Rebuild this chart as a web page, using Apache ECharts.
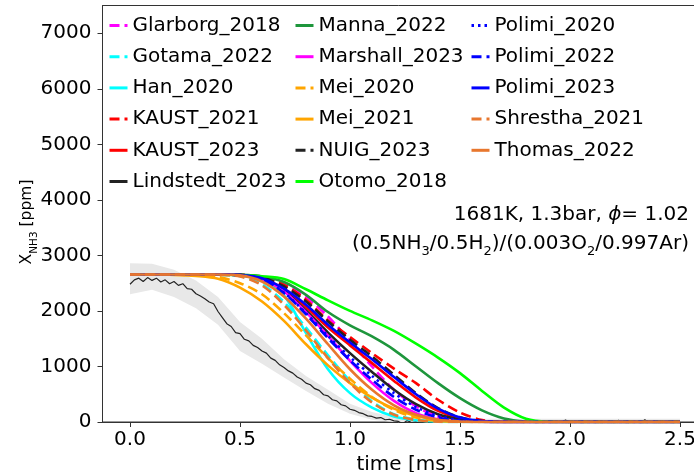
<!DOCTYPE html>
<html><head><meta charset="utf-8">
<script src="https://cdn.jsdelivr.net/npm/echarts@6/dist/echarts.min.js"></script>
<style>html,body{margin:0;padding:0;background:#fff}#c{width:694px;height:472px}</style>
</head><body><div id="c"></div>
<script>
// time grid for model curves [ms]
const T = [0,0.1,0.2,0.3,0.4,0.5,0.6,0.7,0.8,0.9,1.0,1.1,1.2,1.3,1.4,1.5,1.6,1.7,1.8,1.9,2.0,2.1,2.2,2.3,2.4,2.5];
const xTicks = [0,0.5,1.0,1.5,2.0,2.5];
const yTicks = [0,1000,2000,3000,4000,5000,6000,7000];

// model predictions, X_NH3 [ppm]
const Glarborg_2018 = [2655,2655,2655,2655,2655,2650,2620,2480,2250,1900,1460,1000,580,280,100,25,4,0,0,0,0,0,0,0,0,0];
const Gotama_2022   = [2655,2655,2655,2655,2650,2630,2480,2160,1700,1200,740,370,140,40,5,0,0,0,0,0,0,0,0,0,0,0];
const Han_2020      = [2655,2655,2655,2655,2655,2640,2560,2280,1600,950,520,260,100,30,5,0,0,0,0,0,0,0,0,0,0,0];
const KAUST_2021    = [2655,2655,2655,2655,2655,2650,2610,2470,2200,1830,1530,1240,960,700,400,170,35,3,0,0,0,0,0,0,0,0];
const KAUST_2023    = [2655,2655,2655,2655,2655,2645,2590,2390,2070,1700,1380,1060,740,440,200,65,12,1,0,0,0,0,0,0,0,0];
const Lindstedt_2023= [2655,2655,2655,2655,2655,2645,2580,2360,2010,1610,1240,900,580,320,140,45,10,1,0,0,0,0,0,0,0,0];
const Manna_2022    = [2655,2655,2655,2655,2655,2650,2620,2520,2290,1980,1740,1540,1300,1000,700,430,210,65,10,0,0,0,0,0,0,0];
const Marshall_2023 = [2655,2655,2655,2655,2655,2645,2570,2350,1980,1550,1100,700,380,160,50,10,1,0,0,0,0,0,0,0,0,0];
const Mei_2020      = [2655,2655,2655,2640,2610,2500,2300,1960,1560,1150,780,450,220,80,20,3,0,0,0,0,0,0,0,0,0,0];
const Mei_2021      = [2655,2655,2650,2630,2580,2420,2170,1820,1400,1020,700,440,240,110,40,10,1,0,0,0,0,0,0,0,0,0];
const NUIG_2023     = [2655,2655,2655,2655,2655,2650,2600,2440,2170,1810,1480,1180,850,520,250,85,15,1,0,0,0,0,0,0,0,0];
const Otomo_2018    = [2655,2655,2655,2655,2652,2645,2625,2575,2390,2190,2000,1830,1640,1410,1160,880,560,260,60,5,0,0,0,0,0,0];
const Polimi_2020   = [2655,2655,2655,2655,2655,2645,2570,2330,1960,1550,1170,830,520,270,110,30,5,0,0,0,0,0,0,0,0,0];
const Polimi_2022   = [2655,2655,2655,2655,2655,2645,2570,2320,1940,1510,1110,760,450,220,80,20,3,0,0,0,0,0,0,0,0,0];
const Polimi_2023   = [2655,2655,2655,2655,2655,2645,2590,2400,2110,1750,1430,1130,810,500,240,80,15,1,0,0,0,0,0,0,0,0];
const Shrestha_2021 = [2655,2655,2655,2655,2650,2620,2460,2110,1650,1150,700,350,130,35,5,0,0,0,0,0,0,0,0,0,0,0];
const Thomas_2022   = [2655,2655,2655,2655,2655,2640,2530,2260,1860,1400,950,580,300,130,40,10,1,0,0,0,0,0,0,0,0,0];

// experiment (step 0.02 ms from 0)
const expStep = 0.02;
const expValues = [2480,2560,2590,2530,2600,2550,2590,2520,2560,2490,2530,2460,2490,2400,2390,2310,2270,2220,2160,2130,
1990,1880,1770,1720,1610,1590,1490,1460,1380,1340,1280,1240,1150,1110,1030,980,920,880,810,770,
700,670,600,570,490,470,400,380,310,290,230,210,170,150,110,100,70,80,40,50,20,
10,-30,25,-10,5,-45,20,0,-20,35,-15,10,-60,15,-5,30,-25,5,-10,20,-40,10,25,-15,0,-35,15,5,-20,30,
-10,-50,20,0,15,-25,10,-5,35,-30,5,-15,20,-45,10,0,25,-20,5,-10,30,-35,15,-5,10,-25,40,-10,5,-30,20,0,-15,25,10];
// experimental uncertainty band (every 0.1 ms)
const bandLo = [2300,2380,2250,2050,1750,1280,1050,800,560,330,150,40,0,0,0,0,0,0,0,0,0,0,0,0,0,0];
const bandHi = [2860,2850,2740,2550,2250,1800,1500,1130,830,580,330,180,90,60,60,60,60,60,60,60,60,60,60,60,60,60];

const FONT = 'DejaVu Sans';
const FS = 20;
const DASH = [10,5], DOT = [2.5,4];
const models = [
  ['Glarborg_2018', Glarborg_2018, '#ff00ff', DASH],
  ['Gotama_2022', Gotama_2022, '#00ffff', DASH],
  ['Han_2020', Han_2020, '#00ffff', 'solid'],
  ['KAUST_2021', KAUST_2021, '#ff0000', DASH],
  ['KAUST_2023', KAUST_2023, '#ff0000', 'solid'],
  ['Lindstedt_2023', Lindstedt_2023, '#222222', 'solid'],
  ['Manna_2022', Manna_2022, '#1e963c', 'solid'],
  ['Marshall_2023', Marshall_2023, '#ff00ff', 'solid'],
  ['Mei_2020', Mei_2020, '#ffa500', DASH],
  ['Mei_2021', Mei_2021, '#ffa500', 'solid'],
  ['NUIG_2023', NUIG_2023, '#222222', DASH],
  ['Otomo_2018', Otomo_2018, '#00ff00', 'solid'],
  ['Polimi_2020', Polimi_2020, '#0000ff', DOT],
  ['Polimi_2022', Polimi_2022, '#0000ff', DASH],
  ['Polimi_2023', Polimi_2023, '#0000ff', 'solid'],
  ['Shrestha_2021', Shrestha_2021, '#e8772e', DASH],
  ['Thomas_2022', Thomas_2022, '#e8772e', 'solid']
];

const series = [];
series.push({type:'custom', name:'band', silent:true, z:1, clip:true, data:[[0,0]],
  renderItem:(params, api) => {
    const pts = [];
    for (let i = 0; i < T.length; i++) pts.push(api.coord([T[i], bandHi[i]]));
    for (let i = T.length - 1; i >= 0; i--) pts.push(api.coord([T[i], bandLo[i]]));
    return {type:'polygon', shape:{points:pts}, style:{fill:'#e8e8e8'}};
  }});
series.push({type:'line', name:'exp', data:expValues.map((v,i)=>[+(i*expStep).toFixed(3), v]),
  symbol:'none', lineStyle:{width:1.2, color:'#222'}, z:2});
models.forEach(m => {
  series.push({type:'line', name:m[0], data:T.map((t,i)=>[t,m[1][i]]), smooth:0.3, symbol:'none', showSymbol:false,
    color:m[2], lineStyle:{width:2.6, color:m[2], type:m[3]}, z:3});
});

const legendBase = {orient:'vertical', itemWidth:18, itemHeight:20, itemGap:11.2, padding:0, top:15.5,
  selectedMode:false, lineStyle:{width:3},
  itemStyle:{opacity:0, color:'rgba(0,0,0,0)', borderWidth:0},
  textStyle:{fontSize:FS, fontFamily:FONT, color:'#000', lineHeight:20}};
const col1 = models.slice(0,6).map(m=>m[0]);
const col2 = models.slice(6,12).map(m=>m[0]);
const col3 = models.slice(12).map(m=>m[0]);

const chart = echarts.init(document.getElementById('c'), null, {renderer:'canvas'});
chart.setOption({
  animation:false,
  backgroundColor:'#fff',
  grid:{left:102.5, right:-13.5, top:5.5, bottom:50, show:true, borderColor:'#333', borderWidth:1,
        containLabel:false, outerBoundsMode:'none'},
  legend:[
    Object.assign({}, legendBase, {left:108, data:col1}),
    Object.assign({}, legendBase, {left:294, data:col2}),
    Object.assign({}, legendBase, {left:470, data:col3})
  ],
  xAxis:{type:'value', min:-0.125, max:2.625,
    name:'time [ms]', nameLocation:'middle', nameGap:27,
    nameTextStyle:{fontSize:FS, fontFamily:FONT, color:'#000'},
    axisLine:{onZero:false, lineStyle:{color:'#333', width:1}},
    axisTick:{customValues:xTicks, length:5, lineStyle:{color:'#333'}},
    axisLabel:{customValues:xTicks, formatter:v=>v.toFixed(1), fontSize:FS, fontFamily:FONT, color:'#000', margin:8},
    splitLine:{show:false}},
  yAxis:{type:'value', min:0, max:7500,
    axisLine:{onZero:false, lineStyle:{color:'#333', width:1}},
    axisTick:{customValues:yTicks, length:5, lineStyle:{color:'#333'}},
    axisLabel:{customValues:yTicks, formatter:v=>String(v), fontSize:FS, fontFamily:FONT, color:'#000', margin:11},
    splitLine:{show:false}},
  graphic:[
    {type:'text', x:29.5, y:222, rotation:Math.PI/2, z:10, style:{
      text:'{a|X}{b|NH}{b|3}{a| [ppm]}', fill:'#000',
      font:'15.5px "DejaVu Sans"', textAlign:'center', textVerticalAlign:'middle',
      rich:{a:{fontSize:15.5, fontFamily:FONT, lineHeight:21, verticalAlign:'top'},
            b:{fontSize:10.5, fontFamily:FONT, lineHeight:21, verticalAlign:'bottom'}}}},
    {type:'text', x:689, y:215, z:10, style:{text:'1681K, 1.3bar, {i|ϕ}= 1.02', fill:'#000',
      font:FS+'px "DejaVu Sans"', textAlign:'right', textVerticalAlign:'middle',
      rich:{i:{fontStyle:'italic', fontSize:FS, fontFamily:FONT}}}},
    {type:'text', x:689, y:246, z:10, style:{
      text:'{a|(0.5NH}{s|3}{a|/0.5H}{s|2}{a|)/(0.003O}{s|2}{a|/0.997Ar)}', fill:'#000',
      font:FS+'px "DejaVu Sans"', textAlign:'right', textVerticalAlign:'middle',
      rich:{a:{fontSize:FS, fontFamily:FONT, lineHeight:24, verticalAlign:'top'},
            s:{fontSize:13, fontFamily:FONT, lineHeight:24, verticalAlign:'bottom'}}}}
  ],
  series:series
});
</script></body></html>
